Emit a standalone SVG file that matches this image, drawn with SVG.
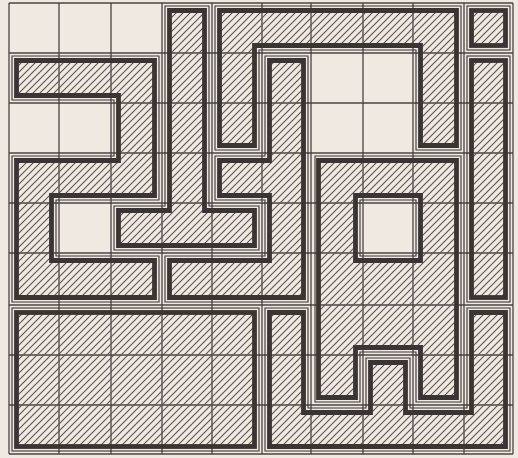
<svg xmlns="http://www.w3.org/2000/svg" width="518" height="458" viewBox="0 0 518 458">
<defs>
<pattern id="h" patternUnits="userSpaceOnUse" width="7" height="7">
<path d="M0,7 L7,0 M-1,1 L1,-1 M6,8 L8,6" stroke="#5a5252" stroke-width="1.1"/>
</pattern>
<style>
.grid line{stroke:#4a4343;stroke-width:1.3}
.sh{fill:url(#h);stroke:#3a3434;stroke-width:4.8;stroke-linejoin:miter;fill-rule:evenodd}
.thin{fill:none;stroke:#3a3434;stroke-width:1.1}
</style>
</defs>
<rect width="518" height="458" fill="#efe9e2"/>
<g class="grid" id="grid">
<line x1="9" y1="3" x2="9" y2="454"/>
<line x1="59" y1="3" x2="59" y2="454"/>
<line x1="111" y1="3" x2="111" y2="454"/>
<line x1="162" y1="3" x2="162" y2="454"/>
<line x1="212" y1="3" x2="212" y2="454"/>
<line x1="262" y1="3" x2="262" y2="454"/>
<line x1="311" y1="3" x2="311" y2="454"/>
<line x1="363" y1="3" x2="363" y2="454"/>
<line x1="413" y1="3" x2="413" y2="454"/>
<line x1="464" y1="3" x2="464" y2="454"/>
<line x1="513" y1="3" x2="513" y2="454"/>
<line x1="9" y1="3" x2="513" y2="3"/>
<line x1="9" y1="53" x2="513" y2="53"/>
<line x1="9" y1="103" x2="513" y2="103"/>
<line x1="9" y1="153" x2="513" y2="153"/>
<line x1="9" y1="203" x2="513" y2="203"/>
<line x1="9" y1="253" x2="513" y2="253"/>
<line x1="9" y1="305" x2="513" y2="305"/>
<line x1="9" y1="355" x2="513" y2="355"/>
<line x1="9" y1="405" x2="513" y2="405"/>
<line x1="9" y1="454" x2="513" y2="454"/>
</g>
<g id="shapeA">
<polygon class="thin" points="12,56 159,56 159,200 56,200 56,256 159,256 159,302 12,302 12,156 114,156 114,100 12,100"/>
<polygon class="sh" points="16.5,60.5 154.5,60.5 154.5,195.5 51.5,195.5 51.5,260.5 154.5,260.5 154.5,297.5 16.5,297.5 16.5,160.5 118.5,160.5 118.5,95.5 16.5,95.5"/>
</g>
<g id="shapeB">
<polygon class="thin" points="165,6 209,6 209,206 259,206 259,250 114,250 114,206 165,206"/>
<polygon class="sh" points="169.5,10.5 204.5,10.5 204.5,210.5 254.5,210.5 254.5,245.5 118.5,245.5 118.5,210.5 169.5,210.5"/>
</g>
<g id="shapeC">
<polygon class="thin" points="215,6 461,6 461,150 416,150 416,50 259,50 259,150 215,150"/>
<polygon class="sh" points="219.5,10.5 456.5,10.5 456.5,145.5 420.5,145.5 420.5,45.5 254.5,45.5 254.5,145.5 219.5,145.5"/>
</g>
<g id="shapeD">
<polygon class="thin" points="265,56 308,56 308,302 165,302 165,256 265,256 265,200 215,200 215,156 265,156"/>
<polygon class="sh" points="269.5,60.5 303.5,60.5 303.5,297.5 169.5,297.5 169.5,260.5 269.5,260.5 269.5,195.5 219.5,195.5 219.5,160.5 269.5,160.5"/>
</g>
<g id="shapeE">
<path class="thin" d="M315,156 H461 V402 H416 V352 H360 V402 H315 Z M416,200 H360 V256 H416 Z"/>
<path class="sh" d="M318.5,160.5 H456.5 V397.5 H420.5 V347.5 H355.5 V397.5 H318.5 Z M420.5,195.5 H355.5 V260.5 H420.5 Z"/>
</g>
<g id="shapeF">
<polygon class="thin" points="265,308 308,308 308,408 366,408 366,358 410,358 410,408 467,408 467,308 510,308 510,451 265,451"/>
<polygon class="sh" points="269.5,312.5 303.5,312.5 303.5,412.5 370.5,412.5 370.5,362.5 405.5,362.5 405.5,412.5 471.5,412.5 471.5,312.5 505.5,312.5 505.5,446.5 269.5,446.5"/>
</g>
<g id="shapeG">
<rect class="thin" x="467" y="56" width="43" height="246"/>
<rect class="sh" x="471.5" y="60.5" width="34" height="237"/>
</g>
<g id="shapeH">
<rect class="thin" x="467" y="6" width="43" height="44"/>
<rect class="sh" x="471.5" y="10.5" width="34" height="35"/>
</g>
<g id="shapeI">
<rect class="thin" x="12" y="308" width="247" height="143"/>
<rect class="sh" x="16.5" y="312.5" width="238" height="134"/>
</g>
</svg>
